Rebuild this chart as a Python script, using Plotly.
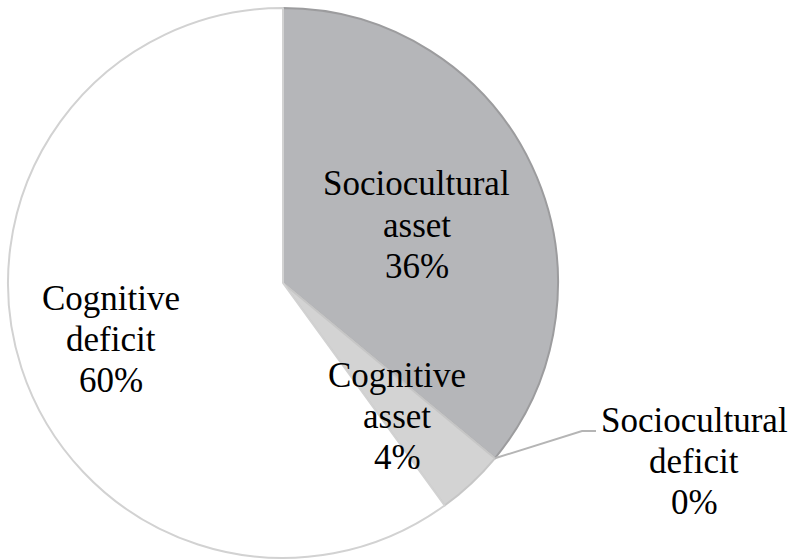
import math
import plotly.graph_objects as go

labels = ["Sociocultural asset", "Sociocultural deficit", "Cognitive asset", "Cognitive deficit"]
values = [36, 0, 4, 60]
colors = ["#b5b6b9", "#c8c8c8", "#d3d3d3", "#ffffff"]
edge_colors = ["#9c9c9e", "#b8b8b8", "#c6c6c6", "#d2d2d2"]
label_lines = [["Sociocultural", "asset"], ["Sociocultural", "deficit"], ["Cognitive", "asset"], ["Cognitive", "deficit"]]
label_pos = [(417, 225), (694, 461), (397, 416), (111, 339)]  # px centre of middle line

W, H = 793, 560
cx, cy, r = 283, 283, 275
LINE = 41
FONT = dict(family="Liberation Serif", size=35, color="#000000")

fig = go.Figure(go.Pie(
    labels=labels, values=values, sort=False, direction="clockwise", rotation=0,
    marker=dict(colors=colors, line=dict(color=edge_colors, width=2)),
    textinfo="none", hoverinfo="label+percent", showlegend=False,
    domain=dict(x=[(cx - r) / W, (cx + r) / W], y=[1 - (cy + r) / H, 1 - (cy - r) / H]),
))

total = sum(values)
annotations = []
for lines, v, (px, py) in zip(label_lines, values, label_pos):
    all_lines = lines + [f"{round(100 * v / total)}%"]
    for i, t in enumerate(all_lines):
        yy = py + (i - 1) * LINE
        annotations.append(dict(x=px / W, y=1 - yy / H, xref="paper", yref="paper", text=t,
                                showarrow=False, align="center", xanchor="center", yanchor="middle",
                                font=FONT))

# leader line for the zero slice
cum = values[0] / total
ang = 2 * math.pi * cum
sx, sy = cx + r * math.sin(ang), cy - r * math.cos(ang)
path = f"M {sx / W},{1 - sy / H} L {582 / W},{1 - 431 / H} L {596 / W},{1 - 431 / H}"
shapes = [dict(type="path", xref="paper", yref="paper", path=path, line=dict(color="#b5b5b5", width=2))]

fig.update_layout(width=W, height=H, margin=dict(l=0, r=0, t=0, b=0),
                  paper_bgcolor="white", plot_bgcolor="white",
                  annotations=annotations, shapes=shapes)
fig.write_html("out.html", config={"displayModeBar": False},
               post_script="document.body.style.margin='0';")
